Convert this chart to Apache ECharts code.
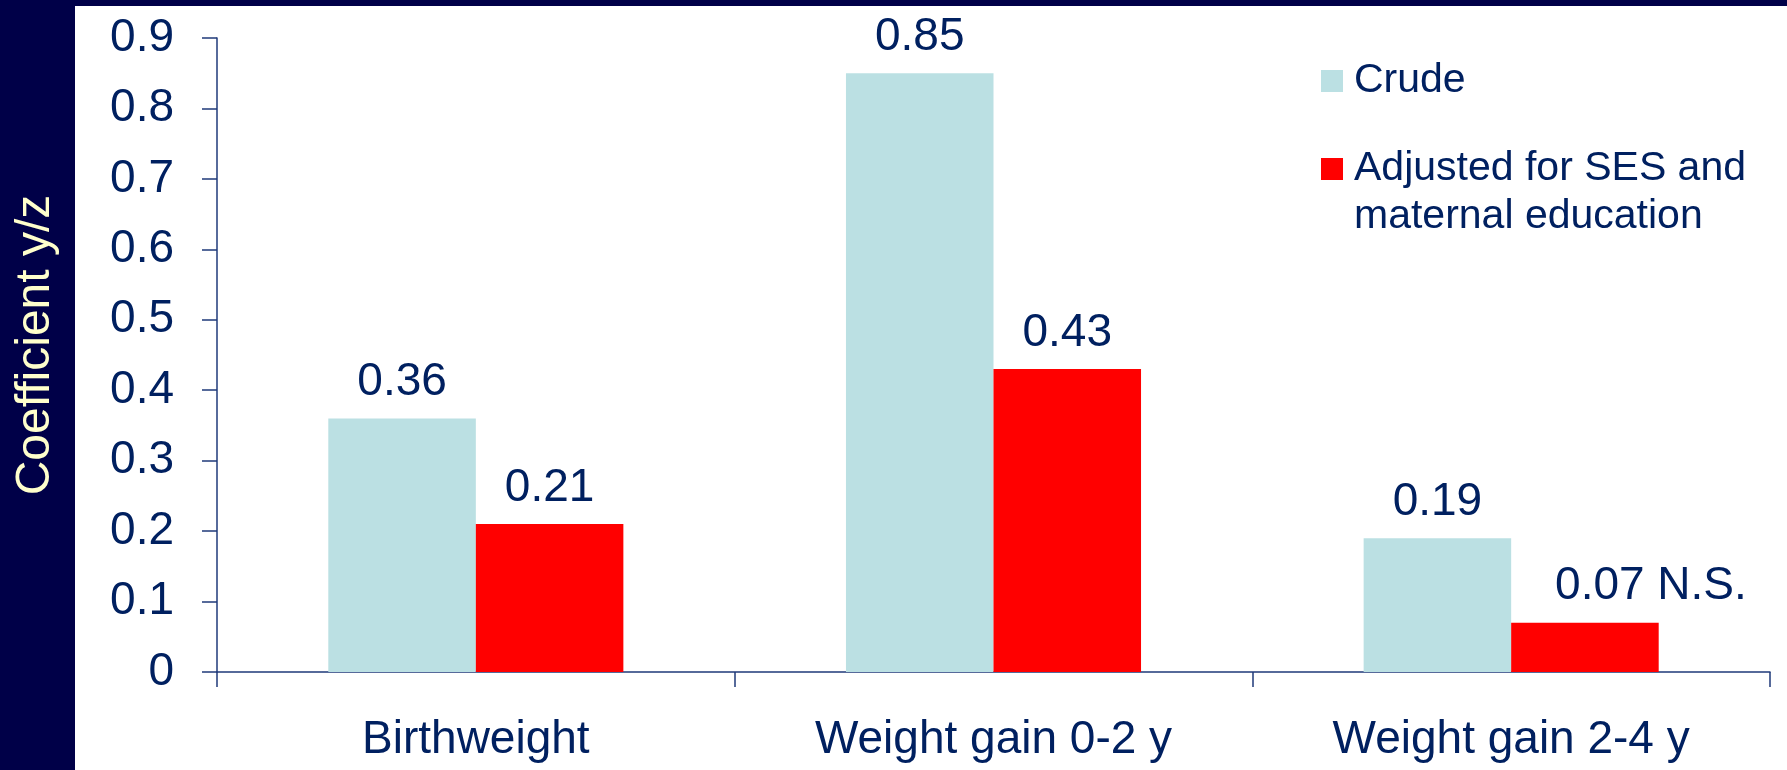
<!DOCTYPE html>
<html>
<head>
<meta charset="utf-8">
<script src="https://cdn.jsdelivr.net/npm/echarts@6/dist/echarts.min.js"></script>
<style>
  html, body { margin: 0; padding: 0; background: #000048; }
  #chart { width: 1787px; height: 770px; }
</style>
</head>
<body>
<div id="chart"></div>
<script>
// Outcome categories along the x axis
const categories = ['Birthweight', 'Weight gain 0-2 y', 'Weight gain 2-4 y'];
// Regression coefficients (y/z)
const crudeValues = [0.36, 0.85, 0.19];
const adjustedValues = [0.21, 0.43, 0.07];
// Significance note appended to the adjusted value labels
const adjustedNotes = ['', '', 'N.S.'];
// Series names
const crudeName = 'Crude';
const adjustedName = 'Adjusted for SES and\nmaternal education';
const yAxisTitle = 'Coefficient y/z';

const navy = '#000048';
const textBlue = '#002060';
const axisBlue = '#1f3a7a';
const font = 'Liberation Sans, Arial, sans-serif';

const chart = echarts.init(document.getElementById('chart'));

const labelBase = {
  show: true,
  position: 'top',
  distance: 13,
  color: textBlue,
  fontSize: 46,
  fontFamily: font
};

const legendText = { color: textBlue, fontSize: 41, fontFamily: font, lineHeight: 48, padding: [0, 0, 0, 6] };

chart.setOption({
  animation: false,
  backgroundColor: navy,
  graphic: [{
    type: 'rect',
    z: -10,
    silent: true,
    shape: { x: 75, y: 6, width: 1787 - 75, height: 770 - 6 },
    style: { fill: '#ffffff' }
  }],
  grid: { left: 217, right: 17, top: 38, bottom: 98, containLabel: false },
  legend: [
    {
      data: [crudeName],
      orient: 'vertical',
      left: 1321,
      top: 57,
      padding: 0,
      icon: 'rect',
      itemWidth: 22,
      itemHeight: 22,
      selectedMode: false,
      textStyle: legendText
    },
    {
      data: [adjustedName],
      orient: 'vertical',
      left: 1321,
      top: 97,
      padding: 0,
      icon: 'rect',
      itemWidth: 22,
      itemHeight: 22,
      selectedMode: false,
      // leading blank line keeps the first text line level with the swatch
      formatter: name => '\n' + name,
      textStyle: legendText
    }
  ],
  xAxis: {
    type: 'category',
    data: categories,
    axisLine: { lineStyle: { color: axisBlue, width: 1.5 } },
    axisTick: { show: true, length: 15, lineStyle: { color: axisBlue, width: 1.5 } },
    axisLabel: { color: textBlue, fontSize: 46, fontFamily: font, margin: 45, interval: 0 },
    splitLine: { show: false }
  },
  yAxis: {
    type: 'value',
    min: 0,
    max: 0.9,
    interval: 0.1,
    name: yAxisTitle,
    nameLocation: 'middle',
    nameRotate: 90,
    nameGap: 157,
    nameTextStyle: { color: '#ffffcc', fontSize: 48, fontFamily: font, padding: [0, 0, 0, 20] },
    axisLine: { show: true, lineStyle: { color: axisBlue, width: 1.5 } },
    axisTick: { show: true, length: 15, lineStyle: { color: axisBlue, width: 1.5 } },
    axisLabel: { color: textBlue, fontSize: 46, fontFamily: font, margin: 43 },
    splitLine: { show: false }
  },
  series: [
    {
      name: crudeName,
      type: 'bar',
      data: crudeValues,
      barGap: '0%',
      barCategoryGap: '43%',
      itemStyle: { color: '#bbe0e3' },
      label: labelBase
    },
    {
      name: adjustedName,
      type: 'bar',
      data: adjustedValues.map((v, i) => adjustedNotes[i]
        ? { value: v, label: { offset: [66, 0] } }
        : v),
      barGap: '0%',
      barCategoryGap: '43%',
      itemStyle: { color: '#ff0000' },
      label: Object.assign({}, labelBase, {
        formatter: p => adjustedNotes[p.dataIndex]
          ? p.value + ' ' + adjustedNotes[p.dataIndex]
          : String(p.value)
      })
    }
  ]
});
</script>
</body>
</html>
